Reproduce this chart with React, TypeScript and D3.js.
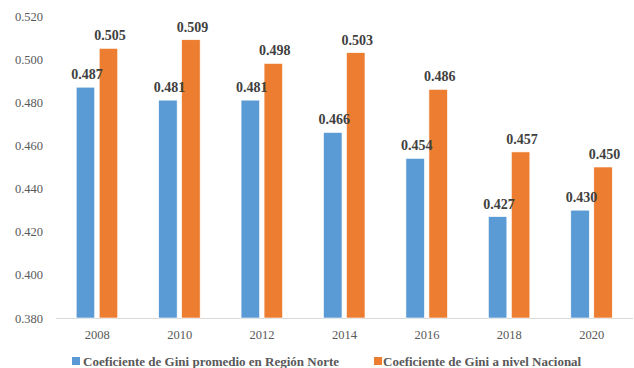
import React from "react";
import * as d3 from "d3";

const years = ["2008", "2010", "2012", "2014", "2016", "2018", "2020"];
const norte = [0.487, 0.481, 0.481, 0.466, 0.454, 0.427, 0.43];
const nacional = [0.505, 0.509, 0.498, 0.503, 0.486, 0.457, 0.45];
const yTicks = [0.38, 0.4, 0.42, 0.44, 0.46, 0.48, 0.5, 0.52];
const seriesNames = ["Coeficiente de Gini promedio en Región Norte", "Coeficiente de Gini a nivel Nacional"];

const W = 634, H = 368;
const BLUE = "#5B9BD5", ORANGE = "#ED7D31";
const FONT = "Liberation Serif, Times New Roman, Tinos, DejaVu Serif, serif";

export default function App() {
  const x = d3.scaleBand<string>().domain(years).range([56, 633]);
  const y = d3.scaleLinear().domain([0.38, 0.52]).range([318, 16]);
  const bw = 18.5;
  const fmt = d3.format(".3f");
  const tstyle = { fontFamily: FONT } as React.CSSProperties;
  return (
    <svg width={W} height={H} style={{ position: "absolute", left: 0, top: 0, background: "#fff" }}>
      {yTicks.map((t) => (
        <text key={t} x={43} y={y(t) + 4.5} textAnchor="end" style={tstyle} fontSize={12.5} fill="#595959">
          {fmt(t)}
        </text>
      ))}
      <line x1={56} x2={633} y1={318.5} y2={318.5} stroke="#d9d9d9" strokeWidth={1} />
      {years.map((yr, i) => {
        const c = (x(yr) as number) + x.bandwidth() / 2;
        const bx = c - 21;
        const ox = c + 2;
        return (
          <g key={yr}>
            <rect x={bx} y={y(norte[i])} width={bw} height={318 - y(norte[i])} fill={BLUE} stroke="#fff" strokeWidth={0.6} />
            <rect x={ox} y={y(nacional[i])} width={bw} height={318 - y(nacional[i])} fill={ORANGE} stroke="#fff" strokeWidth={0.6} />
            <text x={bx + bw / 2 + 1.5} y={y(norte[i]) - 8} textAnchor="middle" style={tstyle} fontWeight="bold" fontSize={14} fill="#404040">
              {fmt(norte[i])}
            </text>
            <text x={ox + bw / 2 + 1.5} y={y(nacional[i]) - 8} textAnchor="middle" style={tstyle} fontWeight="bold" fontSize={14} fill="#404040">
              {fmt(nacional[i])}
            </text>
            <text x={c} y={339} textAnchor="middle" style={tstyle} fontSize={12.5} fill="#595959">
              {yr}
            </text>
          </g>
        );
      })}
      <rect x={72} y={357} width={8} height={8} fill={BLUE} />
      <text x={83} y={366} style={tstyle} fontWeight="bold" fontSize={13} fill="#595959">{seriesNames[0]}</text>
      <rect x={374} y={357} width={8} height={8} fill={ORANGE} />
      <text x={383} y={366} style={tstyle} fontWeight="bold" fontSize={13} fill="#595959">{seriesNames[1]}</text>
    </svg>
  );
}
